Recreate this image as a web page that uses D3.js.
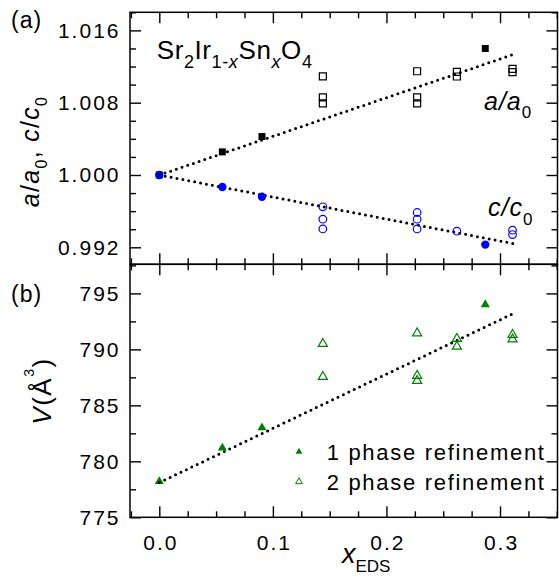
<!DOCTYPE html>
<html><head><meta charset="utf-8">
<script src="https://cdn.jsdelivr.net/npm/d3@7"></script>
<style>
body{margin:0;background:#fff}
text{font-family:Arial,"Liberation Sans",sans-serif;fill:#000}
</style>
</head><body>
<svg id="chart" width="559" height="582"></svg>
<script>
// Sn content from EDS
const xOne = [0, 0.0555, 0.0904, 0.287];
// lattice parameters relative to x = 0, single-phase refinement
const aOne = [1.0000, 1.00256, 1.00426, 1.0140];
const cOne = [1.0000, 0.99867, 0.99759, 0.99230];
// two-phase refinement results
const xTwoA = [0.144, 0.144, 0.144, 0.227, 0.227, 0.227, 0.262, 0.262, 0.311, 0.311];
const aTwo  = [1.01092, 1.00859, 1.00792, 1.01148, 1.00859, 1.00792, 1.0114, 1.0109, 1.01175, 1.01138];
const xTwoC = [0.144, 0.144, 0.144, 0.227, 0.227, 0.227, 0.262, 0.311, 0.311];
const cTwo  = [0.99648, 0.99511, 0.99403, 0.99585, 0.99511, 0.99403, 0.99378, 0.99389, 0.99341];
// unit-cell volume (Å^3)
const vOne  = [778.2, 781.2, 783.0, 794.0];
const xTwoV = [0.144, 0.144, 0.227, 0.227, 0.227, 0.262, 0.262, 0.311, 0.311];
const vTwo  = [790.5, 787.55, 791.45, 787.65, 787.2, 790.95, 790.25, 791.3, 790.9];
// linear guides
const fitX = [0, 0.3116];
const fitA = [1.0000, 1.01333];
const fitC = [1.0000, 0.99241];
const fitV = [778.1, 793.2];
// axis ticks
const xTicks = [0, 0.1, 0.2, 0.3];
const xMinor = d3.range(-1, 15).map(i => +(i * 0.025).toFixed(3));
const topTicks = [0.992, 1.000, 1.008, 1.016];
const topMinor = d3.range(0, 15).map(i => +(0.990 + i * 0.002).toFixed(3));
const botTicks = [775, 780, 785, 790, 795];
const botMinor = d3.range(0, 10).map(i => 775 + i * 2.5);
const legendLabels = ["1 phase refinement", "2 phase refinement"];

const L = 130, R = 557.5, T = 12.3, M = 264.3, B = 517.3;
const svg = d3.select("#chart");
const blue = "#0000ff", green = "#008000";

const x = d3.scaleLinear().domain([-0.0258, 0.3506]).range([L, R]);
const yTop = d3.scaleLinear().domain([0.99012, 1.018]).range([M, T]);
const yBot = d3.scaleLinear().domain([775, 797.6]).range([B, M]);

const MAJ = 11, MIN = 6;
function ticks(axis, tr, vals, size, fmt, pad) {
  const g = svg.append("g").attr("transform", tr)
    .call(axis.tickValues(vals).tickSize(size).tickSizeOuter(0).tickPadding(pad || 3)
      .tickFormat(fmt || (() => "")));
  g.select(".domain").remove();
  g.selectAll("line").attr("stroke", "#000").attr("stroke-width", 1.4);
  g.selectAll("text").attr("font-size", 21).style("letter-spacing", "2px")
    .attr("font-family", "Arial, 'Liberation Sans', sans-serif").attr("fill", "#000");
  return g;
}
const notIn = arr => v => !arr.some(a => Math.abs(a - v) < 1e-9);
const inX = v => v > -0.0258;

// top panel axes
ticks(d3.axisLeft(yTop), `translate(${L},0)`, topTicks, -MAJ, d3.format(".3f"), 9.5);
ticks(d3.axisLeft(yTop), `translate(${L},0)`, topMinor.filter(notIn(topTicks)).filter(v => v > 0.9902), -MIN);
ticks(d3.axisRight(yTop), `translate(${R},0)`, topTicks, -MAJ);
ticks(d3.axisRight(yTop), `translate(${R},0)`, topMinor.filter(notIn(topTicks)).filter(v => v > 0.9902), -MIN);
ticks(d3.axisTop(x), `translate(0,${T})`, xTicks, -MAJ);
ticks(d3.axisTop(x), `translate(0,${T})`, xMinor.filter(notIn(xTicks)).filter(inX), -MIN);
ticks(d3.axisBottom(x), `translate(0,${M})`, xTicks, -MAJ);
ticks(d3.axisBottom(x), `translate(0,${M})`, xMinor.filter(notIn(xTicks)).filter(inX), -MIN);

// bottom panel axes
ticks(d3.axisLeft(yBot), `translate(${L},0)`, botTicks, -MAJ, d3.format("d"), 9.5);
ticks(d3.axisLeft(yBot), `translate(${L},0)`, botMinor.filter(notIn(botTicks)), -MIN);
ticks(d3.axisRight(yBot), `translate(${R},0)`, botTicks, -MAJ);
ticks(d3.axisRight(yBot), `translate(${R},0)`, botMinor.filter(notIn(botTicks)), -MIN);
ticks(d3.axisTop(x), `translate(0,${M})`, xTicks, -MAJ);
ticks(d3.axisTop(x), `translate(0,${M})`, xMinor.filter(notIn(xTicks)).filter(inX), -MIN);
const xl = ticks(d3.axisBottom(x), `translate(0,${B})`, xTicks, -MAJ, d3.format(".1f"), 17.8);
xl.selectAll("text").attr("dx", "1px");
ticks(d3.axisBottom(x), `translate(0,${B})`, xMinor.filter(notIn(xTicks)).filter(inX), -MIN);

// frames
[[T, M], [M, B]].forEach(([t, b]) => svg.append("rect")
  .attr("x", L).attr("y", t).attr("width", R - L).attr("height", b - t)
  .attr("fill", "none").attr("stroke", "#000").attr("stroke-width", 1.5));

// dotted guides
function guide(ys, y) {
  svg.append("path")
    .attr("d", d3.line().x((d, i) => x(fitX[i])).y(d => y(d))(ys))
    .attr("fill", "none").attr("stroke", "#000").attr("stroke-width", 3)
    .attr("stroke-linecap", "round").attr("stroke-dasharray", "0 6");
}
guide(fitA, yTop);
guide(fitC, yTop);
guide(fitV, yBot);

const sq = d3.symbol(d3.symbolSquare, 49)();
const tri = d3.symbol(d3.symbolTriangle, 36)();
const triSmall = d3.symbol(d3.symbolTriangle, 20)();

// a/a0
svg.append("g").selectAll("path").data(aTwo).join("path")
  .attr("d", sq).attr("transform", (d, i) => `translate(${x(xTwoA[i])},${yTop(d)})`)
  .attr("fill", "none").attr("stroke", "#000").attr("stroke-width", 1.2);
svg.append("g").selectAll("path").data(aOne).join("path")
  .attr("d", sq).attr("transform", (d, i) => `translate(${x(xOne[i])},${yTop(d)})`)
  .attr("fill", "#000");
// c/c0
svg.append("g").selectAll("circle").data(cTwo).join("circle")
  .attr("cx", (d, i) => x(xTwoC[i])).attr("cy", d => yTop(d)).attr("r", 3.8)
  .attr("fill", "none").attr("stroke", blue).attr("stroke-width", 1.2);
svg.append("g").selectAll("circle").data(cOne).join("circle")
  .attr("cx", (d, i) => x(xOne[i])).attr("cy", d => yTop(d)).attr("r", 4.2)
  .attr("fill", blue);
// volume
svg.append("g").selectAll("path").data(vTwo).join("path")
  .attr("d", tri).attr("transform", (d, i) => `translate(${x(xTwoV[i])},${yBot(d)})`)
  .attr("fill", "none").attr("stroke", green).attr("stroke-width", 1.2);
svg.append("g").selectAll("path").data(vOne).join("path")
  .attr("d", tri).attr("transform", (d, i) => `translate(${x(xOne[i])},${yBot(d)})`)
  .attr("fill", green);

// guide start dots on top of the x = 0 markers
svg.append("circle").attr("cx", x(fitX[0])).attr("cy", yTop(fitA[0])).attr("r", 1.5).attr("fill", "#000");
svg.append("circle").attr("cx", x(fitX[0])).attr("cy", yBot(fitV[0])).attr("r", 1.5).attr("fill", "#000");

// legend
const leg = svg.append("g");
legendLabels.forEach((lab, i) => {
  const ly = 451.7 + i * 30;
  leg.append("path").attr("d", triSmall).attr("transform", `translate(299,${ly})`)
    .attr("fill", i === 0 ? green : "none").attr("stroke", green).attr("stroke-width", i === 0 ? 0 : 1);
  leg.append("text").attr("x", 326.7).attr("y", ly + 8.3).attr("font-size", 22)
    .style("letter-spacing", "1.7px").text(lab);
});

// texts
function rich(parent, parts) {
  parts.forEach(p => {
    const t = parent.append("tspan").text(p.t);
    if (p.i) t.attr("font-style", "italic");
    if (p.s) t.attr("font-size", p.s);
    if (p.dy) t.attr("dy", p.dy);
  });
}
const formula = svg.append("text").attr("x", 156.7).attr("y", 59).attr("font-size", 26)
  .style("letter-spacing", "0.6px");
rich(formula, [{t: "Sr"}, {t: "2", s: 18, dy: 9}, {t: "Ir", s: 26, dy: -9},
  {t: "1-", s: 18, dy: 9}, {t: "x", s: 18, i: 1}, {t: "Sn", s: 26, dy: -9},
  {t: "x", s: 18, i: 1, dy: 9}, {t: "O", s: 26, dy: -9}, {t: "4", s: 18, dy: 9}]);

const aLab = svg.append("text").attr("x", 484).attr("y", 110).attr("font-size", 25).style("letter-spacing", "1px");
rich(aLab, [{t: "a/a", i: 1}, {t: "0", s: 17, dy: 8}]);
const cLab = svg.append("text").attr("x", 488).attr("y", 216).attr("font-size", 25).style("letter-spacing", "1px");
rich(cLab, [{t: "c/c", i: 1}, {t: "0", s: 17, dy: 9}]);

svg.append("text").attr("x", 11).attr("y", 28).attr("font-size", 23).style("letter-spacing", "1px").text("(a)");
svg.append("text").attr("x", 11).attr("y", 302).attr("font-size", 23).style("letter-spacing", "1px").text("(b)");

const yTitleTop = svg.append("text").attr("transform", "translate(39,151.5) rotate(-90)")
  .attr("text-anchor", "middle").attr("font-size", 25).style("letter-spacing", "1.3px");
rich(yTitleTop, [{t: "a", i: 1}, {t: "/"}, {t: "a", i: 1}, {t: "0", s: 16, dy: 8},
  {t: ", ", s: 25, dy: -8}, {t: "c", i: 1}, {t: "/"}, {t: "c", i: 1}, {t: "0", s: 16, dy: 8}]);

const yTitleBot = svg.append("text").attr("transform", "translate(51,391) rotate(-90)")
  .attr("text-anchor", "middle").attr("font-size", 26).style("letter-spacing", "1.5px");
rich(yTitleBot, [{t: "V", i: 1}, {t: "(Å"}, {t: "3", s: 14, dy: -17}, {t: ")", s: 26, dy: 17}]);

const xTitle = svg.append("text").attr("x", 342).attr("y", 563).attr("font-size", 27);
rich(xTitle, [{t: "x", i: 1}, {t: "EDS", s: 17, dy: 9}]);
</script>
</body></html>
